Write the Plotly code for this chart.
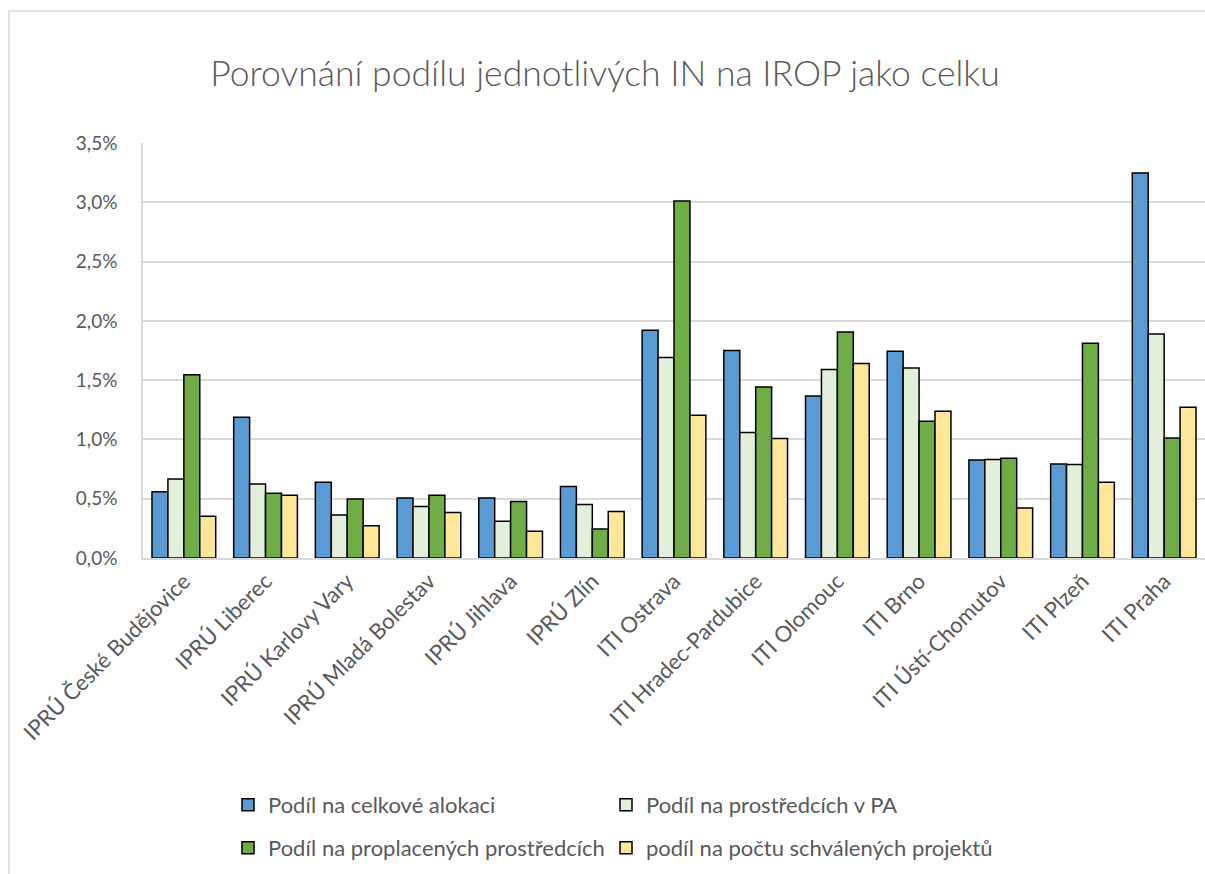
import plotly.graph_objects as go

categories = [
    "IPRÚ České Budějovice", "IPRÚ Liberec", "IPRÚ Karlovy Vary", "IPRÚ Mladá Bolestav",
    "IPRÚ Jihlava", "IPRÚ Zlín", "ITI Ostrava", "ITI Hradec-Pardubice", "ITI Olomouc",
    "ITI Brno", "ITI Ústí-Chomutov", "ITI Plzeň", "ITI Praha",
]
# values in %
podil_alokace = [0.559, 1.186, 0.638, 0.506, 0.506, 0.602, 1.921, 1.750, 1.367, 1.744, 0.827, 0.793, 3.246]
podil_pa = [0.666, 0.624, 0.362, 0.434, 0.310, 0.451, 1.691, 1.058, 1.590, 1.603, 0.830, 0.788, 1.890]
podil_proplacene = [1.546, 0.546, 0.497, 0.529, 0.476, 0.245, 3.010, 1.443, 1.905, 1.154, 0.841, 1.812, 1.013]
podil_projekty = [0.352, 0.529, 0.272, 0.383, 0.225, 0.392, 1.204, 1.007, 1.640, 1.238, 0.422, 0.639, 1.272]

series_names = [
    "Podíl na celkové alokaci",
    "Podíl na prostředcích v PA",
    "Podíl na proplacených prostředcích",
    "podíl na počtu schválených projektů",
]
series_values = [podil_alokace, podil_pa, podil_proplacene, podil_projekty]
colors = ["#5B9BD5", "#E2EFDA", "#70AD47", "#FFE699"]
legend_ids = ["legend", "legend2", "legend3", "legend4"]

FONT = "Lato"
TXT = "#595959"

fig = go.Figure()
for name, vals, col, lg in zip(series_names, series_values, colors, legend_ids):
    fig.add_trace(go.Bar(
        x=categories, y=vals, name=name, showlegend=True,
        marker=dict(color=col, line=dict(color="#000000", width=1.5)),
        legend=lg,
    ))

W, H = 1205, 874
ml, mr, mt, mb = 143, 0, 143, 316
pw, ph = W - ml - mr, H - mt - mb

def px_x(p):
    return (p - ml) / pw

def px_y(p):
    return (H - mb - p) / ph

legend_common = dict(
    orientation="h", xanchor="left", yanchor="middle", itemwidth=30,
    font=dict(size=22, color=TXT), bgcolor="rgba(0,0,0,0)",
)
col_x = [228, 606]
row_y = [805, 848]

fig.update_layout(
    width=W, height=H,
    margin=dict(l=ml, r=mr, t=mt, b=mb),
    paper_bgcolor="white", plot_bgcolor="white",
    separators=", ",
    showlegend=True,
    barmode="group", bargap=0.22, bargroupgap=0,
    font=dict(family=FONT, color=TXT, size=16),
    title=dict(
        text="Porovnání podílu jednotlivých IN na IROP jako celku",
        x=605 / W, xref="container", xanchor="center",
        y=1 - 74 / H, yanchor="middle",
        font=dict(family=FONT, size=35.5, color=TXT, weight=300),
    ),
    xaxis=dict(
        tickangle=-45, showgrid=False, showline=True, linecolor="#d9d9d9", linewidth=1.5,
        ticks="", tickfont=dict(size=22, color=TXT), automargin=False,
    ),
    yaxis=dict(
        range=[0, 3.5], dtick=0.5, tickformat=".1f", ticksuffix="%",
        showgrid=True, gridcolor="#d9d9d9", gridwidth=1.5,
        showline=True, linecolor="#d9d9d9", linewidth=1.5,
        zeroline=False, ticks="", ticklabelstandoff=20,
        tickfont=dict(size=19, color=TXT), automargin=False,
    ),
    legend=dict(x=px_x(col_x[0]), y=px_y(row_y[0]), **legend_common),
    legend2=dict(x=px_x(col_x[1]), y=px_y(row_y[0]), **legend_common),
    legend3=dict(x=px_x(col_x[0]), y=px_y(row_y[1]), **legend_common),
    legend4=dict(x=px_x(col_x[1]), y=px_y(row_y[1]), **legend_common),
    shapes=[dict(
        type="rect", xref="paper", yref="paper",
        x0=px_x(9), x1=px_x(1300), y0=px_y(11), y1=px_y(1000),
        line=dict(color="#d9d9d9", width=1.5), fillcolor="rgba(0,0,0,0)", layer="below",
    )],
)

fig.write_html(
    "out.html",
    config={"displayModeBar": False},
    post_script="document.body.style.margin='0';document.body.style.overflow='hidden';",
)
